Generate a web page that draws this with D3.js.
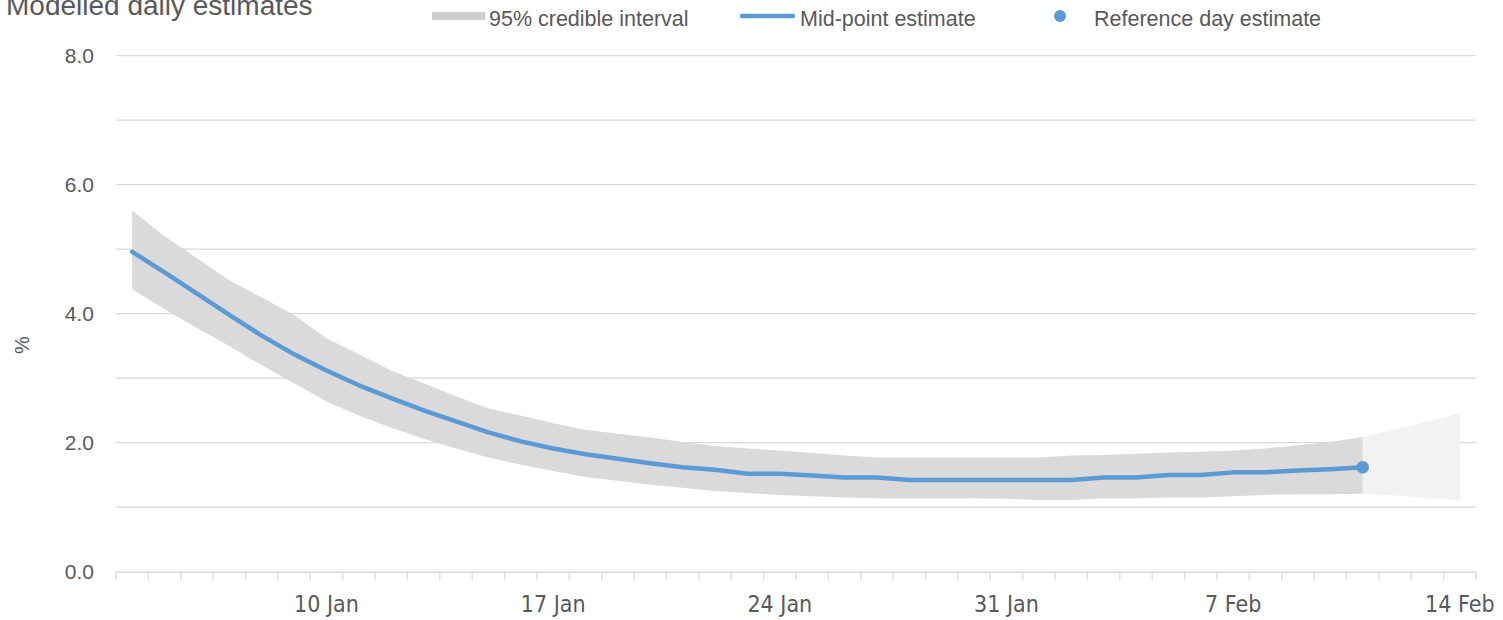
<!DOCTYPE html>
<html>
<head>
<meta charset="utf-8">
<script src="https://cdn.jsdelivr.net/npm/d3@7"></script>
<style>
  body { margin: 0; background: #fff; }
  svg { display: block; }
  text { fill: #595959; }
</style>
</head>
<body>
<div class="canvas"></div>
<script>
// daily categories, 4 Jan to 14 Feb
const days = d3.timeDay.range(new Date(2021, 0, 4), new Date(2021, 1, 15));
const tickLabels = ['10 Jan', '17 Jan', '24 Jan', '31 Jan', '7 Feb', '14 Feb'];
const yTicks = [0, 2, 4, 6, 8];

// modelled estimates, 4 Jan to 11 Feb (reference day)
const midpoint = [4.96, 4.64, 4.31, 3.98, 3.66, 3.37, 3.12, 2.89, 2.69, 2.50, 2.33, 2.16, 2.02,
  1.91, 1.82, 1.75, 1.68, 1.62, 1.58, 1.52, 1.52, 1.49, 1.46, 1.46, 1.42, 1.42, 1.42, 1.42,
  1.42, 1.42, 1.46, 1.46, 1.50, 1.50, 1.54, 1.54, 1.57, 1.59, 1.62];
const upper = [5.60, 5.20, 4.86, 4.52, 4.25, 3.98, 3.62, 3.37, 3.12, 2.92, 2.72, 2.53, 2.42,
  2.30, 2.20, 2.14, 2.08, 2.01, 1.95, 1.91, 1.88, 1.84, 1.80, 1.77, 1.77, 1.77, 1.77, 1.77,
  1.77, 1.80, 1.81, 1.83, 1.85, 1.86, 1.88, 1.91, 1.96, 2.01, 2.09];
const lower = [4.38, 4.07, 3.78, 3.50, 3.20, 2.92, 2.64, 2.42, 2.23, 2.06, 1.91, 1.77, 1.66,
  1.56, 1.47, 1.41, 1.35, 1.30, 1.25, 1.22, 1.19, 1.17, 1.15, 1.14, 1.14, 1.14, 1.14, 1.13,
  1.11, 1.11, 1.14, 1.14, 1.15, 1.15, 1.17, 1.19, 1.20, 1.20, 1.21];
// interval after reference day, 11 Feb to 14 Feb
const projUpper = [2.09, 2.21, 2.33, 2.46];
const projLower = [1.21, 1.18, 1.14, 1.11];

const fmt = d3.timeFormat('%-d %b');
const dims = { width: 1503, height: 620 };
const plot = { left: 116, right: 1476, top: 55.7, bottom: 571.7 };

const svg = d3.select('.canvas')
  .append('svg')
  .attr('width', dims.width)
  .attr('height', dims.height);

const x = d3.scaleBand()
  .domain(days.map(fmt))
  .range([plot.left, plot.right])
  .padding(0);
const cx = d => x(d) + x.bandwidth() / 2;

const y = d3.scaleLinear()
  .domain([0, 8])
  .range([plot.bottom, plot.top]);

// gridlines every 1.0
svg.append('g')
  .selectAll('line')
  .data(d3.range(1, 9))
  .join('line')
    .attr('x1', plot.left)
    .attr('x2', plot.right)
    .attr('y1', d => y(d))
    .attr('y2', d => y(d))
    .attr('stroke', '#d9d9d9')
    .attr('stroke-width', 1.3);

// y labels
svg.append('g')
  .selectAll('text')
  .data(yTicks)
  .join('text')
    .attr('x', 94)
    .attr('y', d => y(d))
    .attr('dy', '0.36em')
    .attr('text-anchor', 'end')
    .style('font', '21px "Liberation Sans", Arial, sans-serif')
    .text(d => d.toFixed(1));

svg.append('text')
  .attr('transform', 'translate(29, 345) rotate(-90)')
  .attr('text-anchor', 'middle')
  .style('font', '20px "Liberation Sans", Arial, sans-serif')
  .text('%');

// bands
const recent = days.slice(0, midpoint.length).map(fmt);
const proj = days.slice(midpoint.length - 1).map(fmt);

svg.append('path')
  .datum(proj)
  .attr('fill', '#f2f2f2')
  .attr('d', d3.area()
    .x(d => cx(d))
    .y0((d, i) => y(projLower[i]))
    .y1((d, i) => y(projUpper[i])));

svg.append('path')
  .datum(recent)
  .attr('fill', '#dbd9da')
  .attr('d', d3.area()
    .x(d => cx(d))
    .y0((d, i) => y(lower[i]))
    .y1((d, i) => y(upper[i])));

// x axis
const xAxis = d3.axisBottom(x)
  .tickSize(0)
  .tickFormat(d => tickLabels.includes(d) ? d : '');
const gx = svg.append('g')
  .attr('transform', `translate(0, ${plot.bottom})`)
  .call(xAxis);
gx.select('.domain').attr('stroke', '#d9d9d9').attr('stroke-width', 1.5);
gx.selectAll('text')
  .attr('dy', 0)
  .attr('y', 40)
  .style('font', '23px "Liberation Sans Narrow", "DejaVu Sans Condensed", sans-serif')
  .style('fill', '#595959');

// day tick marks on slot boundaries
gx.append('g')
  .selectAll('line')
  .data(days.map(fmt).concat(['end']))
  .join('line')
    .attr('x1', d => d === 'end' ? plot.right : x(d))
    .attr('x2', d => d === 'end' ? plot.right : x(d))
    .attr('y1', 0)
    .attr('y2', 8)
    .attr('stroke', '#d9d9d9')
    .attr('stroke-width', 1.3);

// mid-point line and reference dot
svg.append('path')
  .datum(recent)
  .attr('fill', 'none')
  .attr('stroke', '#5b9bd5')
  .attr('stroke-width', 4.5)
  .attr('stroke-linejoin', 'round')
  .attr('stroke-linecap', 'round')
  .attr('d', d3.line()
    .x(d => cx(d))
    .y((d, i) => y(midpoint[i])));

const refDay = recent[recent.length - 1];
svg.append('circle')
  .attr('cx', cx(refDay))
  .attr('cy', y(midpoint[midpoint.length - 1]))
  .attr('r', 6.3)
  .attr('fill', '#5b9bd5');

// title
svg.append('text')
  .attr('x', 6)
  .attr('y', 15)
  .style('font', '28px "Liberation Sans", Arial, sans-serif')
  .text('Modelled daily estimates');

// legend
const legend = svg.append('g').style('font', '21.5px "Liberation Sans", Arial, sans-serif');
legend.append('rect')
  .attr('x', 432).attr('y', 12).attr('width', 53).attr('height', 8)
  .attr('fill', '#d0cecf');
legend.append('text').attr('x', 489).attr('y', 26).text('95% credible interval');
legend.append('line')
  .attr('x1', 742).attr('x2', 793).attr('y1', 16).attr('y2', 16)
  .attr('stroke', '#5b9bd5').attr('stroke-width', 4.5).attr('stroke-linecap', 'round');
legend.append('text').attr('x', 800).attr('y', 26).text('Mid-point estimate');
legend.append('circle')
  .attr('cx', 1060).attr('cy', 16).attr('r', 6)
  .attr('fill', '#5b9bd5');
legend.append('text').attr('x', 1094).attr('y', 26).text('Reference day estimate');
</script>
</body>
</html>
